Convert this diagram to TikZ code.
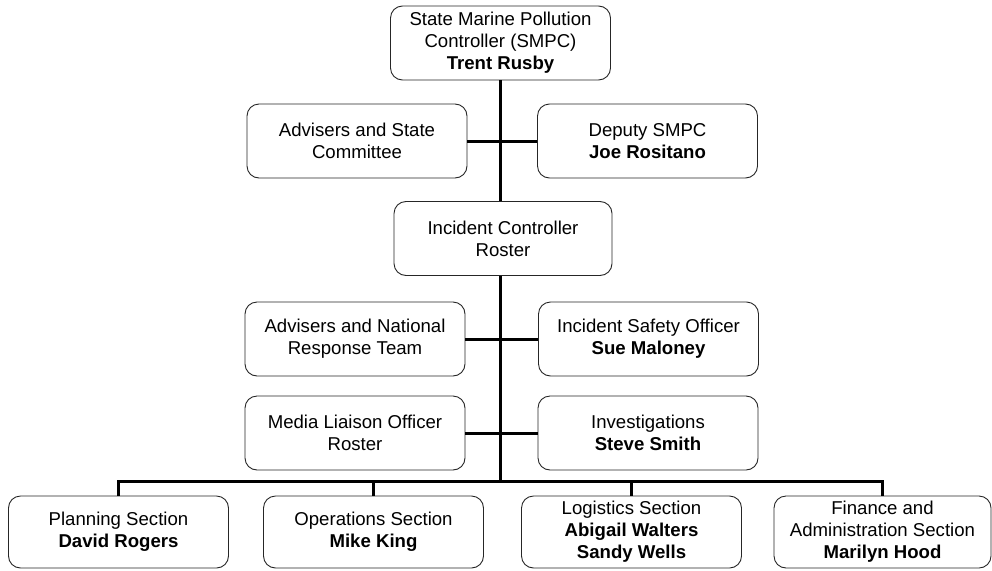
\documentclass[tikz,border=0pt]{standalone}
\usepackage{fontspec}
\setmainfont{Liberation Sans}

\begin{document}
\begin{tikzpicture}[x=1pt, y=-1pt,
  box/.style = {draw=black!85, line width=0.9pt, rounded corners=12pt, fill=white,
    minimum width=220pt, minimum height=74pt, inner sep=0pt, align=center,
    font=\fontsize{18.6}{22}\selectfont},
  link/.style = {line width=3pt}]
\useasboundingbox (0,0) rectangle (992,570);

%top of the chain
\node[box] (smpc) at (500.5,43) {State Marine Pollution\\Controller (SMPC)\\\textbf{Trent Rusby}};
\node[box] (advstate) at (357,141) {Advisers and State\\Committee};
\node[box] (deputy) at (647.5,141) {Deputy SMPC\\\textbf{Joe Rositano}};
\node[box, minimum width=218pt] (incident) at (503,238.5) {Incident Controller\\Roster};

%support roles
\node[box] (advnat) at (355,339) {Advisers and National\\Response Team};
\node[box] (safety) at (648.5,339) {Incident Safety Officer\\\textbf{Sue Maloney}};
\node[box] (media) at (355,433) {Media Liaison Officer\\Roster};
\node[box] (invest) at (648,433) {Investigations\\\textbf{Steve Smith}};

%sections
\node[box, minimum height=72pt] (planning) at (118.5,532) {Planning Section\\\textbf{David Rogers}};
\node[box, minimum height=72pt] (operations) at (373.5,532) {Operations Section\\\textbf{Mike King}};
\node[box, minimum height=72pt] (logistics) at (631.5,532) {Logistics Section\\\textbf{Abigail Walters}\\\textbf{Sandy Wells}};
\node[box, minimum height=72pt, minimum width=217pt] (finance) at (882.5,532) {Finance and\\Administration Section\\\textbf{Marilyn Hood}};

\coordinate (bar) at (500.5,481);

\draw[link] (smpc.south) -- (smpc.south |- incident.north);
\draw[link] (advstate.east) -- (deputy.west);
\draw[link] (bar |- incident.south) -- (bar);
\draw[link] (advnat.east) -- (safety.west);
\draw[link] (media.east) -- (invest.west);
\draw[link] (planning.north) |- (bar) -| (finance.north);
\draw[link] (operations.north) -- (operations.north |- bar);
\draw[link] (logistics.north) -- (logistics.north |- bar);

\end{tikzpicture}
\end{document}
